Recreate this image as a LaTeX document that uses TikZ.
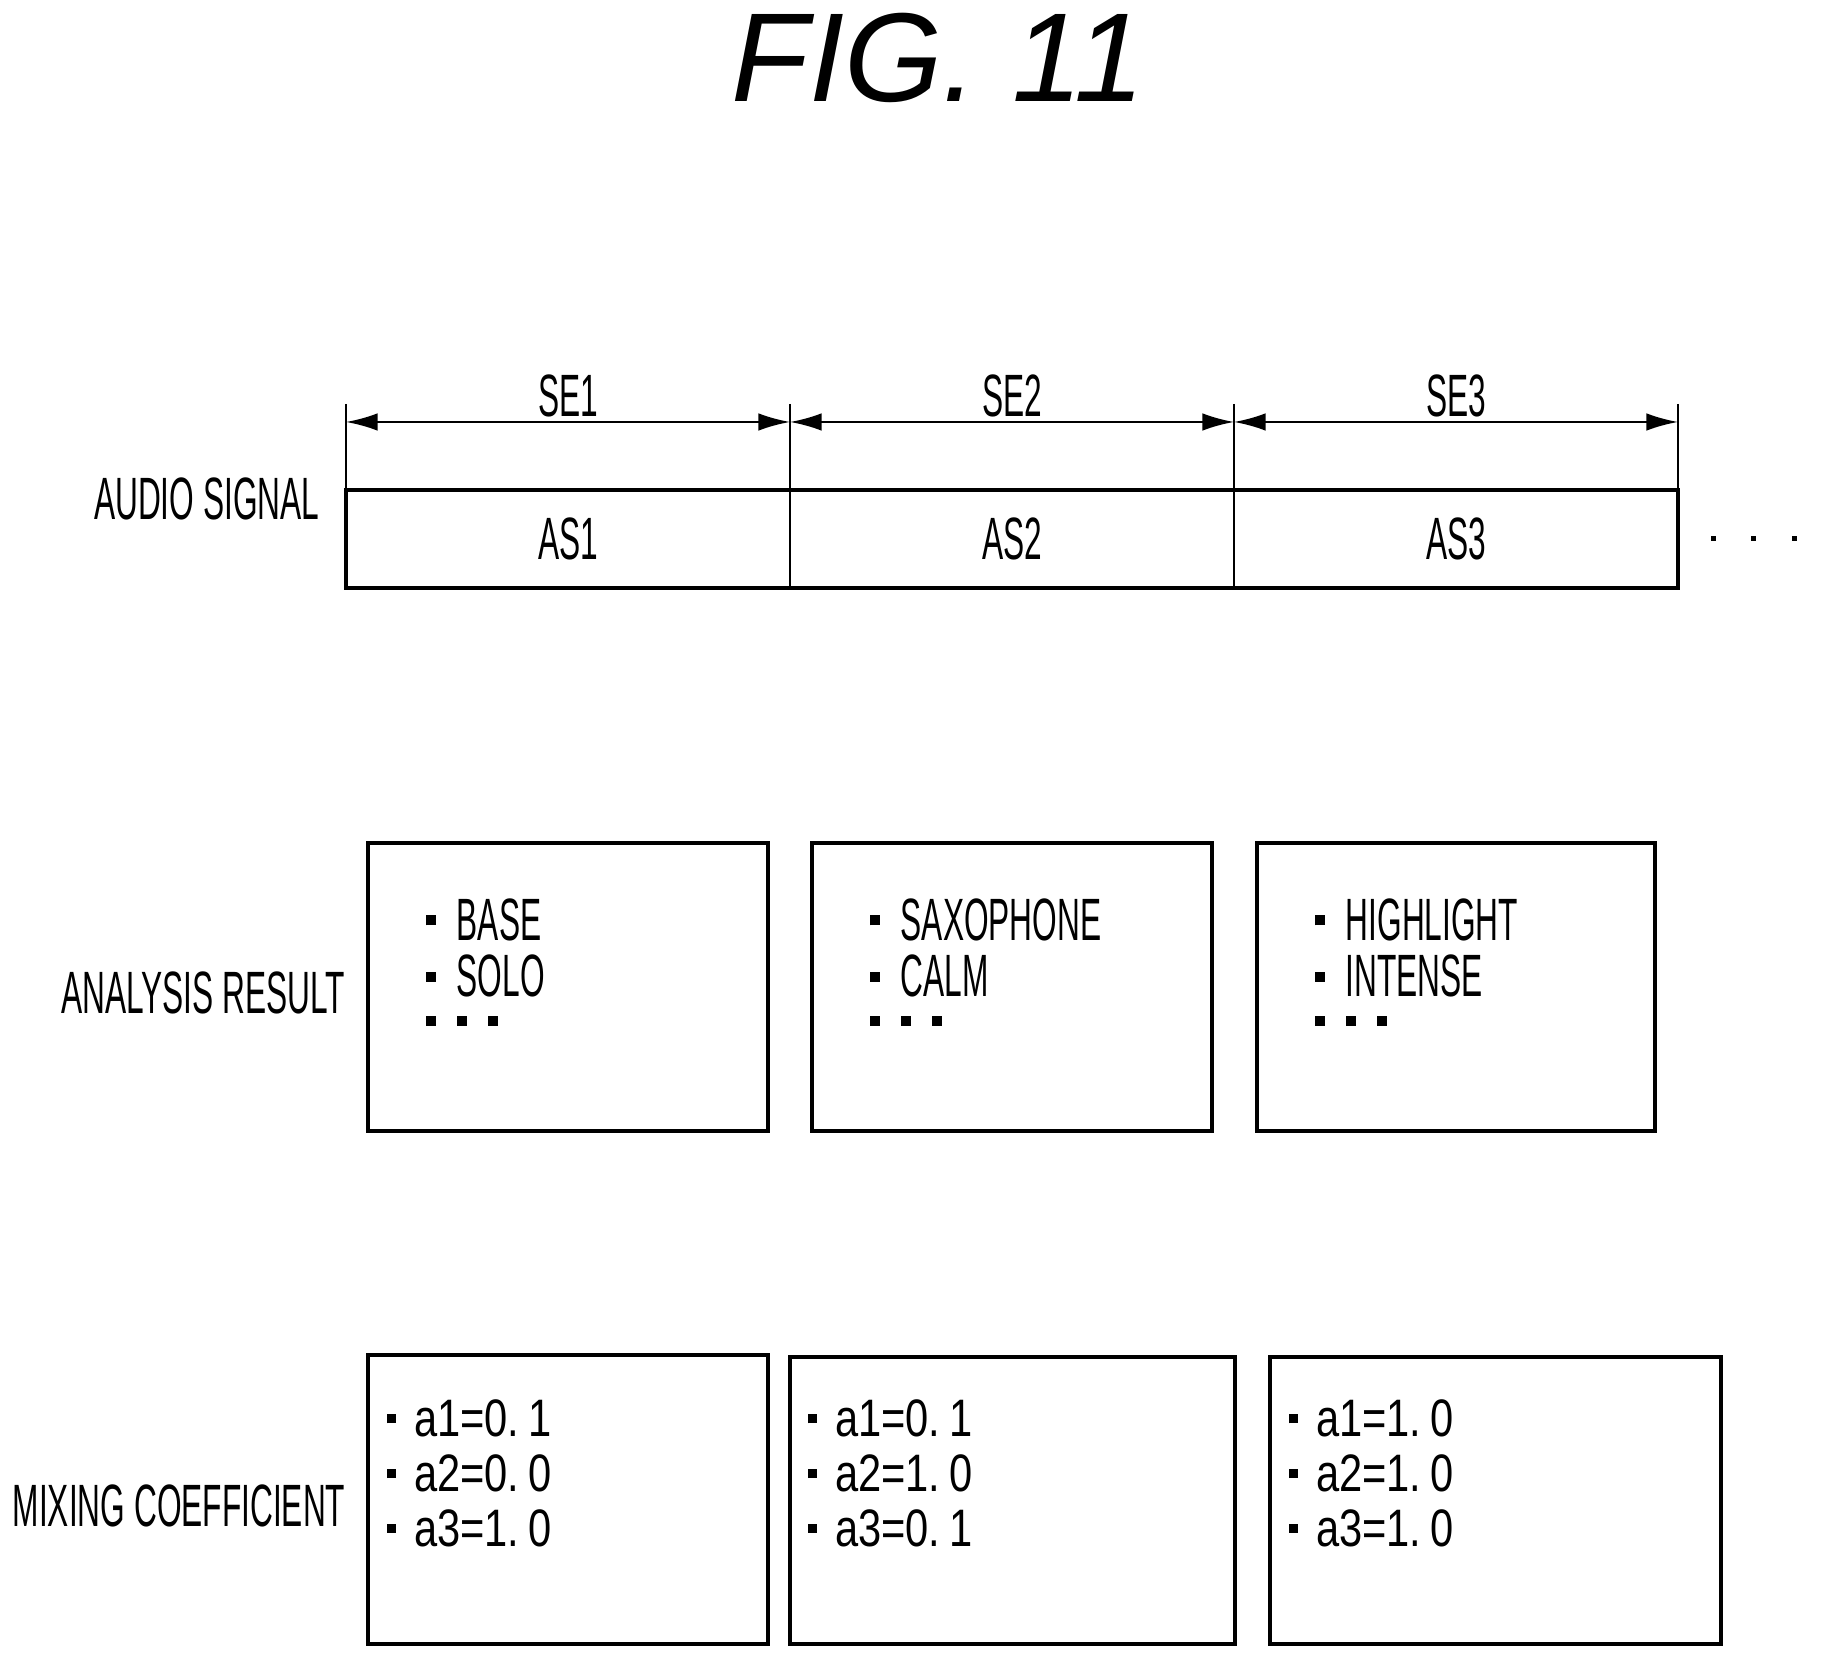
\documentclass[tikz,border=0pt]{standalone}
\usepackage{fontspec}
\setmainfont{Liberation Sans}
\newfontfamily\narrowfont[FakeStretch=0.53]{Liberation Sans}
\newfontfamily\coeffont[FakeStretch=0.79]{Liberation Sans}
\usetikzlibrary{arrows.meta}
\newcommand{\bul}{\rule[0.25em]{0.17em}{0.17em}\hspace{0.35em}}
\tikzset{
  lbl/.style={font=\narrowfont\fontsize{17}{20}\selectfont, inner sep=0pt},
  box/.style={draw, line width=0.9pt},
  items/.style={anchor=north west, align=left, inner sep=0pt, font=\narrowfont\fontsize{17}{16}\selectfont},
  coef/.style={anchor=north west, align=left, inner sep=0pt, font=\coeffont\fontsize{15}{15.6}\selectfont},
  dim/.style={{Latex[length=9pt,width=5pt]}-{Latex[length=9pt,width=5pt]}, line width=0.6pt}
}
\begin{document}
\begin{tikzpicture}[x=1cm,y=1cm]
\useasboundingbox (0,0) rectangle (18.32,16.71);
\node (title) at (9.38,16.13) {\fontsize{36}{40}\selectfont\itshape FIG. 11};

% audio signal
\draw[line width=0.9pt] (3.46,11.81) rectangle (16.78,10.83);
\foreach \x in {3.46,7.90,12.34,16.78}
  \draw[line width=0.6pt] (\x,12.67) -- (\x,10.83);
\draw[dim] (3.46,12.49) -- (7.90,12.49);
\draw[dim] (7.90,12.49) -- (12.34,12.49);
\draw[dim] (12.34,12.49) -- (16.78,12.49);
\node[lbl] (se1) at (5.68,12.75) {SE1};
\node[lbl] (se2) at (10.12,12.75) {SE2};
\node[lbl] (se3) at (14.56,12.75) {SE3};
\node[lbl] (as1) at (5.68,11.32) {AS1};
\node[lbl] (as2) at (10.12,11.32) {AS2};
\node[lbl] (as3) at (14.56,11.32) {AS3};
\foreach \x in {17.13,17.53,17.94}
  \fill (\x-0.025,11.30) rectangle (\x+0.025,11.35);
\node[lbl, anchor=east] (audio) at (3.20,11.72) {AUDIO SIGNAL};

% analysis result
\node[lbl, anchor=east] (analysis) at (3.46,6.78) {ANALYSIS RESULT};
\draw[box] (3.68,8.28) rectangle (7.68,5.40);
\draw[box] (8.12,8.28) rectangle (12.12,5.40);
\draw[box] (12.57,8.28) rectangle (16.55,5.40);
\node[items] (r1) at (4.25,7.73) {\bul BASE\\\bul SOLO\\[-0.2em]\bul\bul\bul};
\node[items] (r2) at (8.69,7.73) {\bul SAXOPHONE\\\bul CALM\\[-0.2em]\bul\bul\bul};
\node[items] (r3) at (13.14,7.73) {\bul HIGHLIGHT\\\bul INTENSE\\[-0.2em]\bul\bul\bul};

% mixing coefficient
\node[lbl, anchor=east] (mixing) at (3.46,1.65) {MIXING COEFFICIENT};
\draw[box] (3.68,3.16) rectangle (7.68,0.27);
\draw[box] (7.90,3.14) rectangle (12.35,0.27);
\draw[box] (12.70,3.14) rectangle (17.21,0.27);
\node[coef] (m1) at (3.86,2.72) {\bul a1=0.\,1\\\bul a2=0.\,0\\\bul a3=1.\,0};
\node[coef] (m2) at (8.07,2.72) {\bul a1=0.\,1\\\bul a2=1.\,0\\\bul a3=0.\,1};
\node[coef] (m3) at (12.88,2.72) {\bul a1=1.\,0\\\bul a2=1.\,0\\\bul a3=1.\,0};
\end{tikzpicture}
\end{document}
